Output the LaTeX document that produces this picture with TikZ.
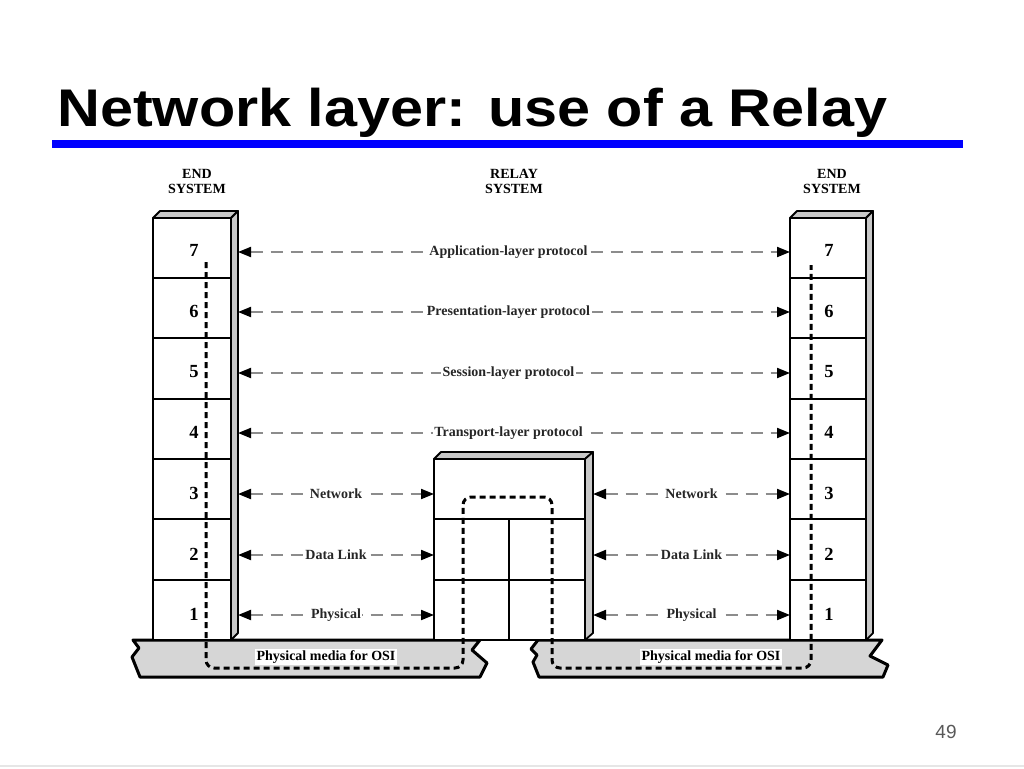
\documentclass[tikz,border=0pt]{standalone}
\usepackage{fontspec}
\setmainfont{Liberation Serif}
\newfontfamily\titlefont{Liberation Sans}
\usetikzlibrary{arrows.meta}
\definecolor{slabgray}{HTML}{C8C8C8}
\definecolor{mediagray}{HTML}{D6D6D6}
\definecolor{protogray}{HTML}{8C8C8C}
\definecolor{rulegray}{HTML}{E6E6E6}
\definecolor{titleblue}{HTML}{0000FF}

\begin{document}
\begin{tikzpicture}[line cap=round,line join=round,>={Triangle[length=13pt,width=10pt,color=black]},x=1pt,y=-1pt,
	proto/.style={<->,color=protogray,line width=2pt,dash pattern=on 12pt off 8pt,line cap=butt},
	lbl/.style={fill=white,inner sep=1.5pt,text=black!85,font=\fontsize{14}{15}\selectfont\bfseries},
	num/.style={font=\fontsize{18.5}{20}\selectfont\bfseries},
	hdr/.style={align=center,font=\fontsize{14}{15}\selectfont\bfseries},
	slab/.style={fill=slabgray,draw=black,line width=1.8pt},
	media/.style={fill=mediagray,draw=black,line width=3pt},
	route/.style={line width=3pt,dash pattern=on 6pt off 4pt,rounded corners=8pt,line cap=butt}]
				\useasboundingbox (0,0) rectangle (1024,768);
				% title and rule
				\node [anchor=base west,inner sep=0pt] (title) at (57,126) {\titlefont\fontsize{53}{60}\selectfont\bfseries\scalebox{1.12}[1]{Network layer: use of a Relay}};
				\fill [titleblue] (52,140) rectangle (963,148);
				\node [hdr] (hL) at (197,181) {END\\SYSTEM};
				\node [hdr] (hM) at (514,181) {RELAY\\SYSTEM};
				\node [hdr] (hR) at (832,181) {END\\SYSTEM};
				% physical media
				\draw [media] (133,640)-- (480,640)-- (472,650)-- (487,663)-- (480,677)-- (140,677)-- (132,657)-- (139,648)-- cycle;
				\draw [media] (538,640)-- (882,640)-- (870,656)-- (888,665)-- (883,677)-- (539,677)-- (533,662)-- (537,655)-- (531,649)-- cycle;
				\node [lbl,text=black] (mediaL) at (326,657) {Physical media for OSI};
				\node [lbl,text=black] (mediaR) at (711,657) {Physical media for OSI};
				% left end system
				\draw [line width=1.8pt,fill=white] (153,218) rectangle (231,640);
				\draw [line width=1.5pt] (153,278)-- (231,278) (153,338)-- (231,338) (153,399)-- (231,399) (153,459)-- (231,459) (153,519)-- (231,519) (153,580)-- (231,580);
				\draw [slab] (153,218)-- (160,211)-- (238,211)-- (231,218)-- cycle;
				\draw [slab] (231,218)-- (238,211)-- (238,633)-- (231,640)-- cycle;
				% right end system
				\draw [line width=1.8pt,fill=white] (790,218) rectangle (866,640);
				\draw [line width=1.5pt] (790,278)-- (866,278) (790,338)-- (866,338) (790,399)-- (866,399) (790,459)-- (866,459) (790,519)-- (866,519) (790,580)-- (866,580);
				\draw [slab] (790,218)-- (797,211)-- (873,211)-- (866,218)-- cycle;
				\draw [slab] (866,218)-- (873,211)-- (873,633)-- (866,640)-- cycle;
				% relay system
				\draw [line width=1.8pt,fill=white] (434,459) rectangle (585,640);
				\draw [line width=1.5pt] (434,519)-- (585,519) (434,580)-- (585,580) (509,519)-- (509,640);
				\draw [slab] (434,459)-- (441,452)-- (593,452)-- (585,459)-- cycle;
				\draw [slab] (585,459)-- (593,452)-- (593,633)-- (585,640)-- cycle;
				% layer numbers
				\node [num] (L7) at (194,250) {7};
				\node [num] (L6) at (194,311) {6};
				\node [num] (L5) at (194,372) {5};
				\node [num] (L4) at (194,432) {4};
				\node [num] (L3) at (194,493) {3};
				\node [num] (L2) at (194,554) {2};
				\node [num] (L1) at (194,614) {1};
				\node [num] (R7) at (829,250) {7};
				\node [num] (R6) at (829,311) {6};
				\node [num] (R5) at (829,372) {5};
				\node [num] (R4) at (829,432) {4};
				\node [num] (R3) at (829,493) {3};
				\node [num] (R2) at (829,554) {2};
				\node [num] (R1) at (829,614) {1};
				% arrow ends
				\coordinate (aL7) at (238,252); \coordinate (aR7) at (790,252);
				\coordinate (aL6) at (238,312); \coordinate (aR6) at (790,312);
				\coordinate (aL5) at (238,373); \coordinate (aR5) at (790,373);
				\coordinate (aL4) at (238,433); \coordinate (aR4) at (790,433);
				\coordinate (aL3) at (238,494); \coordinate (bL3) at (434,494);
				\coordinate (bR3) at (593,494); \coordinate (aR3) at (790,494);
				\coordinate (aL2) at (238,555); \coordinate (bL2) at (434,555);
				\coordinate (bR2) at (593,555); \coordinate (aR2) at (790,555);
				\coordinate (aL1) at (238,615); \coordinate (bL1) at (434,615);
				\coordinate (bR1) at (593,615); \coordinate (aR1) at (790,615);
				% peer protocols
				\draw [proto] (aL7)-- node [lbl,pos=0.49] (p7) {Application-layer protocol} (aR7);
				\draw [proto] (aL6)-- node [lbl,pos=0.49] (p6) {Presentation-layer protocol} (aR6);
				\draw [proto] (aL5)-- node [lbl,pos=0.49] (p5) {Session-layer protocol} (aR5);
				\draw [proto] (aL4)-- node [lbl,pos=0.49] (p4) {Transport-layer protocol} (aR4);
				\draw [proto] (aL3)-- node [lbl] (p3L) {Network} (bL3);
				\draw [proto] (bR3)-- node [lbl] (p3R) {Network} (aR3);
				\draw [proto] (aL2)-- node [lbl] (p2L) {Data Link} (bL2);
				\draw [proto] (bR2)-- node [lbl] (p2R) {Data Link} (aR2);
				\draw [proto] (aL1)-- node [lbl] (p1L) {Physical} (bL1);
				\draw [proto] (bR1)-- node [lbl] (p1R) {Physical} (aR1);
				% data path through the relay
				\draw [route] (206,262)-- (206,668)-- (463,668)-- (463,497)-- (552,497)-- (552,668)-- (811,668)-- (811,265);
				% page number
				\node [font=\titlefont\fontsize{19}{22}\selectfont,text=black!65] (pg) at (946,732) {49};
				\draw [rulegray,line width=1.5pt] (0,766)-- (1024,766);
\end{tikzpicture}
\end{document}
